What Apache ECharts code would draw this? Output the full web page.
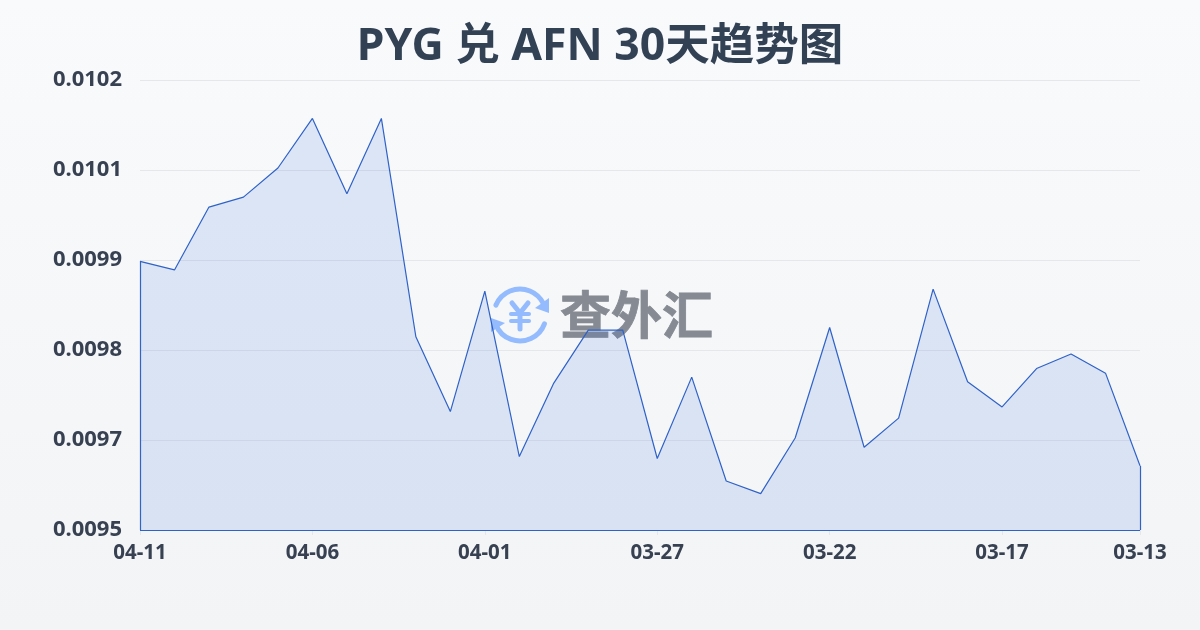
<!DOCTYPE html>
<html><head><meta charset="utf-8">
<style>html,body{margin:0;padding:0;background:#f8fafc}#c{width:1200px;height:630px}</style>
<script src="https://cdn.jsdelivr.net/npm/echarts@6/dist/echarts.min.js"></script>
</head><body><div id="c"></div>
<script>
const titleText = 'PYG 兑 AFN 30天趋势图';
const dates = ['04-11','04-10','04-09','04-08','04-07','04-06','04-05','04-04','04-03','04-02','04-01','03-31','03-30','03-29','03-28','03-27','03-26','03-25','03-24','03-23','03-22','03-21','03-20','03-19','03-18','03-17','03-16','03-15','03-14','03-13'];
const rates = [0.009926,0.009913,0.010008,0.010023,0.010067,0.010142,0.010028,0.010142,0.009812,0.009699,0.009881,0.009631,0.009742,0.009822,0.009822,0.009628,0.009751,0.009594,0.009575,0.009659,0.009826,0.009645,0.009689,0.009884,0.009744,0.009706,0.009764,0.009786,0.009757,0.009617];
const yMin = 0.00952, yMax = 0.0102, yStep = 0.000136;
const labelIdx = [0,5,10,15,20,25,29];
const lineColor = '#2f62c8';
const inkColor = '#374151';
const font = '"Noto Sans","Noto Sans CJK SC",sans-serif';
const chart = echarts.init(document.getElementById('c'), null, {renderer:'canvas'});
chart.setOption({
  animation:false,
  backgroundColor:{type:'linear',x:0,y:0,x2:0,y2:1,colorStops:[{offset:0,color:'#f8fafc'},{offset:1,color:'#f3f4f6'}]},
  title:{text:titleText,left:'center',top:20,textStyle:{fontFamily:font,fontSize:44.5,fontWeight:'bold',color:'#334155'}},
  grid:{left:140,right:60,top:80,bottom:100},
  xAxis:{type:'category',boundaryGap:false,data:dates,
    axisLine:{show:false},
    axisTick:{show:true,length:5,lineStyle:{color:'#e5e7eb'},alignWithLabel:true,interval:(i)=>labelIdx.includes(i)},
    axisLabel:{interval:(i)=>labelIdx.includes(i),showMaxLabel:true,hideOverlap:false,margin:13,fontFamily:font,fontSize:20.5,fontWeight:'bold',color:inkColor},
    splitLine:{show:false}},
  yAxis:{type:'value',min:yMin,max:yMax,interval:yStep,
    axisLine:{show:false},axisTick:{show:false},
    axisLabel:{margin:18,fontFamily:font,fontSize:22,fontWeight:'bold',color:inkColor,formatter:(v)=>v.toFixed(4),padding:[0,0,5,0]},
    splitLine:{show:true,lineStyle:{color:'#e5e7eb',width:1}}},
  graphic:[
    {type:'group',z:1,silent:true,children:[
      {type:'arc',shape:{cx:520,cy:315,r:26,startAngle:-2.75,endAngle:-0.45},style:{stroke:'#93bbfd',lineWidth:5,fill:null,lineCap:'round'}},
      {type:'arc',shape:{cx:520,cy:315,r:26,startAngle:0.35,endAngle:2.75},style:{stroke:'#93bbfd',lineWidth:5,fill:null,lineCap:'round'}},
      {type:'polygon',shape:{points:[[549,298],[549,313],[535,308]]},style:{fill:'#93bbfd'}},
      {type:'polygon',shape:{points:[[491,332],[491,318],[505,323]]},style:{fill:'#93bbfd'}},
      {type:'polyline',shape:{points:[[512,303],[520,313],[528,303]]},style:{stroke:'#93bbfd',lineWidth:5,fill:null,lineCap:'round',lineJoin:'round'}},
      {type:'line',shape:{x1:520,y1:313,x2:520,y2:329},style:{stroke:'#93bbfd',lineWidth:5,lineCap:'round'}},
      {type:'line',shape:{x1:511,y1:314,x2:529,y2:314},style:{stroke:'#93bbfd',lineWidth:4,lineCap:'round'}},
      {type:'line',shape:{x1:511,y1:321,x2:529,y2:321},style:{stroke:'#93bbfd',lineWidth:4,lineCap:'round'}},
      {type:'text',style:{x:560,y:315,text:'查外汇',fill:'#858a93',stroke:'#858a93',lineWidth:0.8,fontFamily:'"Noto Sans CJK SC",sans-serif',fontSize:51,fontWeight:'bold',verticalAlign:'middle',align:'left'}}
    ]}
  ],
  series:[{type:'line',data:rates,symbol:'none',smooth:false,z:5,
    lineStyle:{color:lineColor,width:1.2},
    areaStyle:{color:'rgba(59,110,220,0.2)',origin:'start'},
    markLine:{silent:true,symbol:'none',label:{show:false},animation:false,
      lineStyle:{color:lineColor,width:1.2,type:'solid'},
      data:[
        [{xAxis:dates[0],yAxis:yMin},{xAxis:dates[0],yAxis:rates[0]}],
        [{xAxis:dates[29],yAxis:yMin},{xAxis:dates[29],yAxis:rates[29]}],
        [{xAxis:dates[0],yAxis:yMin},{xAxis:dates[29],yAxis:yMin}]
      ]}
  }]
});
</script></body></html>
